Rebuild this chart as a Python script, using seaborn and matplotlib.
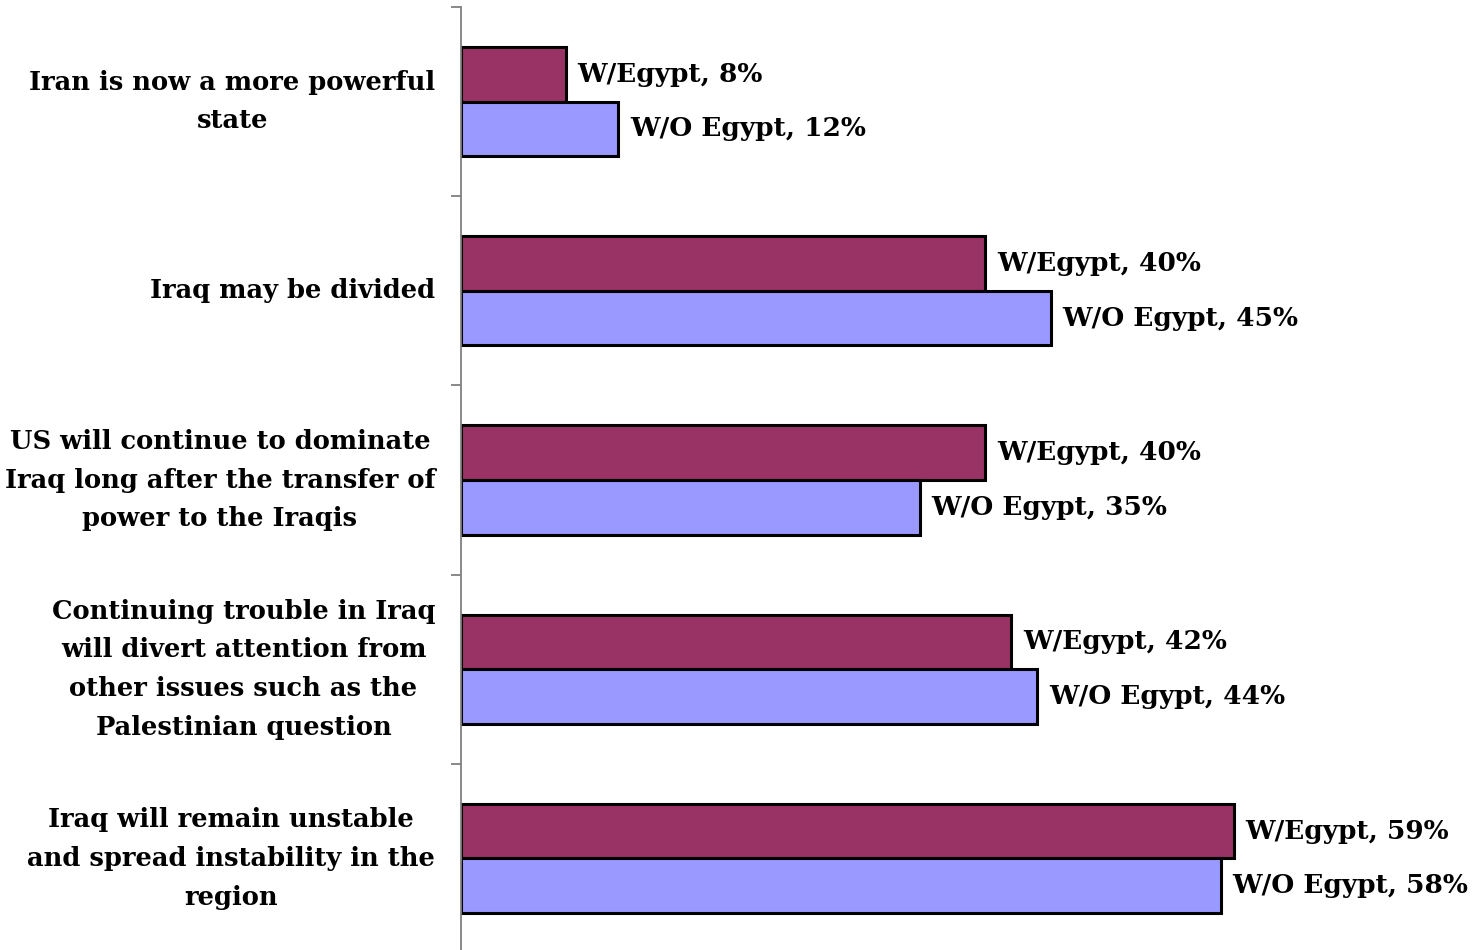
import matplotlib
matplotlib.use("Agg")
import matplotlib.pyplot as plt
import seaborn as sns
import pandas as pd
import numpy as np

categories = [
    "Iran is now a more powerful\nstate",
    "Iraq may be divided",
    "US will continue to dominate\nIraq long after the transfer of\npower to the Iraqis",
    "Continuing trouble in Iraq\nwill divert attention from\nother issues such as the\nPalestinian question",
    "Iraq will remain unstable\nand spread instability in the\nregion",
]
series = ["W/Egypt", "W/O Egypt"]
with_egypt = [8, 40, 40, 42, 59]
without_egypt = [12, 45, 35, 44, 58]
colors = ["#993366", "#9999FF"]

df = pd.DataFrame({
    "category": categories * 2,
    "series": [series[0]] * len(categories) + [series[1]] * len(categories),
    "value": with_egypt + without_egypt,
})

sns.set_style("white")
plt.rcParams["font.family"] = ["DejaVu Serif"]
plt.rcParams["font.weight"] = "bold"
plt.rcParams["text.color"] = "black"
plt.rcParams["ytick.color"] = "#808080"
plt.rcParams["ytick.labelcolor"] = "black"

fig = plt.figure(figsize=(14.77, 9.5), dpi=100)
ax = fig.add_axes([461 / 1477, -3 / 950, 1 - 461 / 1477, 946 / 950])

sns.barplot(data=df, y="category", x="value", hue="series", orient="h",
            palette=colors, width=0.577, edgecolor="black", linewidth=2.2,
            ax=ax, legend=False, saturation=1)

ax.set_xlim(0, (1477 - 461) / 13.1)
ax.set_ylim(4.5, -0.5)
ax.set_xlabel("")
ax.set_ylabel("")
ax.set_xticks([])
ax.set_yticks(range(len(categories)))
ax.set_yticklabels(categories, fontsize=18.5, fontweight="bold", linespacing=1.68,
                   multialignment="center", color="black")
for lbl in ax.get_yticklabels():
    lbl.set_va("center")
ax.tick_params(axis="y", which="major", length=0, pad=18.5)
ax.set_yticks(np.arange(-0.5, len(categories), 1.0), minor=True)
ax.tick_params(axis="y", which="minor", left=True, length=7, width=1.3,
               color="#808080", direction="out")

for s in ["top", "right", "bottom"]:
    ax.spines[s].set_visible(False)
ax.spines["left"].set_color("#808080")
ax.spines["left"].set_linewidth(1.3)

for container, name in zip(ax.containers, series):
    for bar in container:
        w = bar.get_width()
        y = bar.get_y() + bar.get_height() / 2
        ax.text(w + 0.9, y, f"{name}, {w:.0f}%", va="center", ha="left",
                fontsize=19, fontweight="bold", color="black")

fig.savefig("out.png", dpi=100)
